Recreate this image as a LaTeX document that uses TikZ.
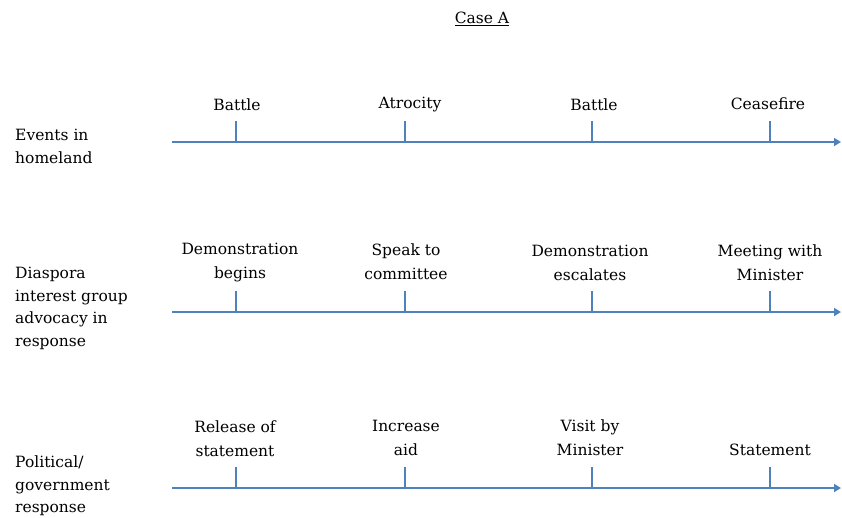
\documentclass[tikz,border=0pt]{standalone}
\usepackage{fontspec}
\setmainfont{DejaVu Serif}
\usetikzlibrary{arrows.meta}
\definecolor{lineblue}{HTML}{4F81BD}
\begin{document}
\begin{tikzpicture}[x=1pt,y=-1pt,
  timeline/.style={draw=lineblue,line width=2.6pt,-{Triangle[length=7pt,width=8pt]}},
  tickmark/.style={draw=lineblue,line width=2.6pt},
  % each label is placed by the top of its first line
  evlabel/.style={anchor=north,inner sep=0pt,align=center,
    font=\fontsize{15.5}{24}\selectfont,
    execute at begin node={\rule{0pt}{16pt}}},
  rowlabel/.style={anchor=north west,inner sep=0pt,align=left,
    font=\fontsize{15.5}{22.5}\selectfont,
    execute at begin node={\rule{0pt}{16pt}}}]
\useasboundingbox (0,0) rectangle (842,517);

% title
\node[evlabel] (title) at (482,7) {\underline{Case A}};

% row labels
\node[rowlabel] (r1) at (15,129) {Events in\\homeland};
\node[rowlabel] (r2) at (15,267) {Diaspora\\interest group\\advocacy in\\response};
\node[rowlabel] (r3) at (15,456) {Political/\\government\\response};

% timelines
\coordinate (a1) at (172,142); \coordinate (b1) at (841,142);
\coordinate (a2) at (172,312); \coordinate (b2) at (841,312);
\coordinate (a3) at (172,488); \coordinate (b3) at (841,488);
\draw[timeline] (a1) -- (b1);
\draw[timeline] (a2) -- (b2);
\draw[timeline] (a3) -- (b3);

% tick marks
\foreach \r/\y in {1/142,2/312,3/488}{
  \foreach \c/\x in {1/236,2/405,3/592,4/770}{
    \coordinate (t\r\c) at (\x,\y);
    \draw[tickmark] (t\r\c) -- ++(0,-21);
  }
}

% events in homeland
\node[evlabel] (e11) at (237,94) {Battle};
\node[evlabel] (e12) at (410,92) {Atrocity};
\node[evlabel] (e13) at (594,94) {Battle};
\node[evlabel] (e14) at (768,93) {Ceasefire};

% diaspora advocacy
\node[evlabel] (e21) at (240,243) {Demonstration\\begins};
\node[evlabel] (e22) at (406,244) {Speak to\\committee};
\node[evlabel] (e23) at (590,245) {Demonstration\\escalates};
\node[evlabel] (e24) at (770,245) {Meeting with\\Minister};

% political response
\node[evlabel] (e31) at (235,421) {Release of\\statement};
\node[evlabel] (e32) at (406,420) {Increase\\aid};
\node[evlabel] (e33) at (590,420) {Visit by\\Minister};
\node[evlabel] (e34) at (770,439) {Statement};
\end{tikzpicture}
\end{document}
